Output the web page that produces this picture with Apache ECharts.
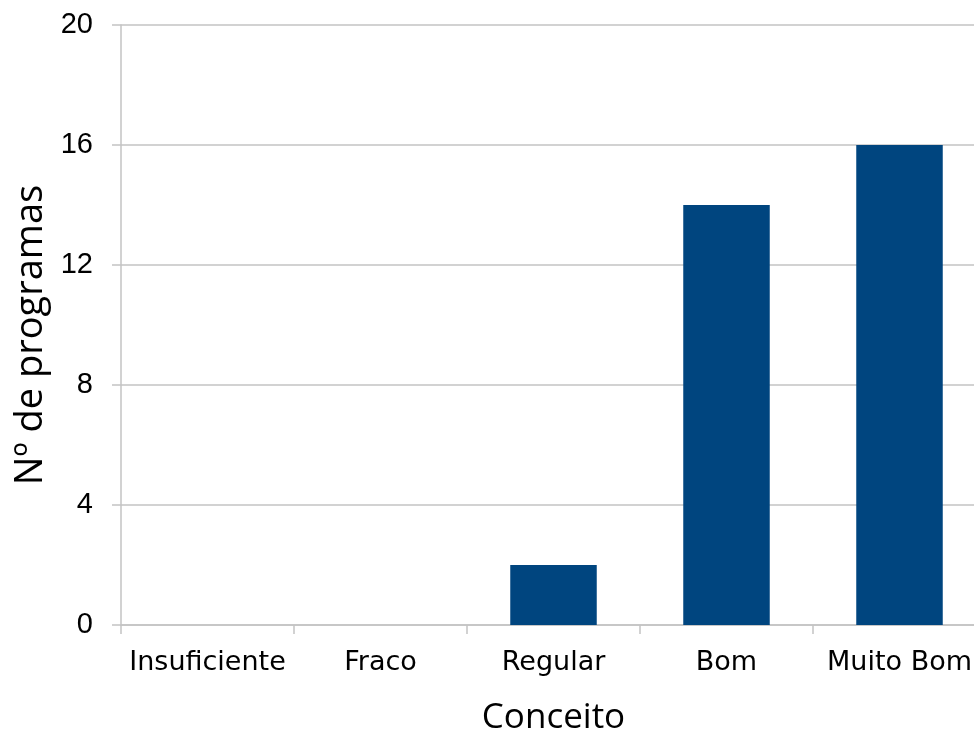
<!DOCTYPE html>
<html><head><meta charset="utf-8">
<script src="https://cdn.jsdelivr.net/npm/echarts@6/dist/echarts.min.js"></script>
<style>html,body{margin:0;padding:0;background:#fff}#c{width:974px;height:731px}</style>
</head><body><div id="c"></div>
<script>
const categories = ['Insuficiente','Fraco','Regular','Bom','Muito Bom'];
const values = [0, 0, 2, 14, 16];
const yTicks = {min: 0, max: 20, interval: 4};

const chart = echarts.init(document.getElementById('c'), null, {renderer: 'canvas'});
const grey = '#c3c3c3';
chart.setOption({
  animation: false,
  backgroundColor: '#fff',
  grid: {left: 121, top: 25, bottom: 106, right: -12, containLabel: false, outerBoundsMode: 'none'},
  xAxis: {
    type: 'category', data: categories,
    name: 'Conceito', nameLocation: 'middle', nameGap: 76,
    nameTextStyle: {fontFamily: 'Open Sans', fontSize: 35, color: '#000'},
    axisLine: {lineStyle: {color: grey, width: 1.5}},
    axisTick: {show: true, length: 9, alignWithLabel: false, lineStyle: {color: grey, width: 1.5}},
    axisLabel: {fontFamily: 'DejaVu Sans', fontSize: 27, color: '#000', margin: 24, interval: 0}
  },
  yAxis: {
    type: 'value', min: yTicks.min, max: yTicks.max, interval: yTicks.interval,
    name: 'Nº de programas', nameLocation: 'middle', nameGap: 71,
    nameTextStyle: {fontFamily: 'Open Sans', fontSize: 38, color: '#000', padding: [0, 20, 0, 0]},
    axisLine: {show: true, lineStyle: {color: grey, width: 1.5}},
    axisTick: {show: true, length: 9, lineStyle: {color: grey, width: 1.5}},
    axisLabel: {fontFamily: 'Liberation Sans', fontSize: 29, color: '#000', margin: 28},
    splitLine: {show: true, lineStyle: {color: grey, width: 1.5}}
  },
  series: [{
    type: 'bar', data: values, barWidth: '50%',
    itemStyle: {color: '#00457f'}
  }]
});
</script></body></html>
